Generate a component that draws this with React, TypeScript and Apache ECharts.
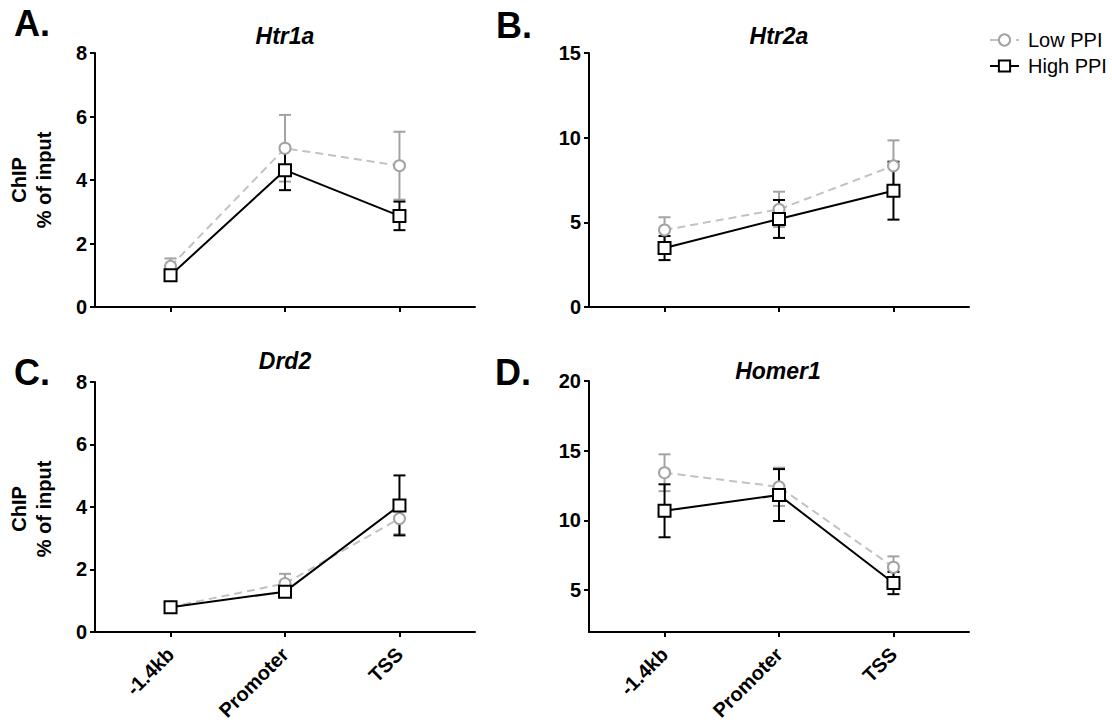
import React, { useEffect, useRef } from "react";
import * as echarts from "echarts";

const categories = ["-1.4kb", "Promoter", "TSS"];
const categoryPositions = [0, 1, 2];

const htr1aLow = [1.28, 5.0, 4.45];
const htr1aLowErr = [0.25, 1.05, 1.07];
const htr1aHigh = [1.0, 4.31, 2.87];
const htr1aHighErr = [0.12, 0.63, 0.45];

const htr2aLow = [4.55, 5.77, 8.34];
const htr2aLowErr = [0.75, 1.04, 1.5];
const htr2aHigh = [3.48, 5.2, 6.87];
const htr2aHighErr = [0.71, 1.12, 1.71];

const drd2Low = [0.8, 1.55, 3.63];
const drd2LowErr = [0.08, 0.31, 0.5];
const drd2High = [0.79, 1.29, 4.05];
const drd2HighErr = [0.07, 0.12, 0.96];

const homer1Low = [13.42, 12.41, 6.64];
const homer1LowErr = [1.32, 1.37, 0.78];
const homer1High = [10.69, 11.82, 5.51];
const homer1HighErr = [1.9, 1.86, 0.8];

const yTicksHtr1a = [0, 2, 4, 6, 8];
const yTicksHtr2a = [0, 5, 10, 15];
const yTicksDrd2 = [0, 2, 4, 6, 8];
const yTicksHomer1 = [5, 10, 15, 20];

const FONT = "'Liberation Sans', Arial, Helvetica, sans-serif";
const GRAY = "#a3a3a3";
const DASH_GRAY = "#c2c2c2";

type Panel = {
  gene: string;
  letter: string;
  low: number[];
  lowErr: number[];
  high: number[];
  highErr: number[];
  yMin: number;
  yMax: number;
  yTicks: number[];
  left: number;
  top: number;
  showLabels: boolean;
  titleX: number;
  titleY: number;
  letterX: number;
  letterY: number;
  yName: boolean;
};

const panels: Panel[] = [
  { gene: "Htr1a", letter: "A.", low: htr1aLow, lowErr: htr1aLowErr, high: htr1aHigh, highErr: htr1aHighErr, yMin: 0, yMax: 8, yTicks: yTicksHtr1a, left: 95, top: 53, showLabels: false, titleX: 285, titleY: 36, letterX: 14, letterY: 23, yName: true },
  { gene: "Htr2a", letter: "B.", low: htr2aLow, lowErr: htr2aLowErr, high: htr2aHigh, highErr: htr2aHighErr, yMin: 0, yMax: 15, yTicks: yTicksHtr2a, left: 589, top: 53, showLabels: false, titleX: 779, titleY: 36, letterX: 496, letterY: 25, yName: false },
  { gene: "Drd2", letter: "C.", low: drd2Low, lowErr: drd2LowErr, high: drd2High, highErr: drd2HighErr, yMin: 0, yMax: 8, yTicks: yTicksDrd2, left: 95, top: 382, showLabels: true, titleX: 285, titleY: 361, letterX: 14, letterY: 372, yName: true },
  { gene: "Homer1", letter: "D.", low: homer1Low, lowErr: homer1LowErr, high: homer1High, highErr: homer1HighErr, yMin: 2, yMax: 20, yTicks: yTicksHomer1, left: 589, top: 381, showLabels: true, titleX: 778, titleY: 371, letterX: 495, letterY: 372, yName: false },
];

const PLOT_W = 380;
const PLOT_H = 254;

function errorRenderer(color: string) {
  return (params: any, api: any) => {
    const x = api.value(0);
    const y = api.value(1);
    const e = api.value(2);
    const top = api.coord([x, y + e]);
    const bot = api.coord([x, y - e]);
    const half = 6;
    const style = { stroke: color, lineWidth: 2, fill: null };
    return {
      type: "group",
      children: [
        { type: "line", shape: { x1: top[0], y1: top[1], x2: bot[0], y2: bot[1] }, style },
        { type: "line", shape: { x1: top[0] - half, y1: top[1], x2: top[0] + half, y2: top[1] }, style },
        { type: "line", shape: { x1: bot[0] - half, y1: bot[1], x2: bot[0] + half, y2: bot[1] }, style },
      ],
    };
  };
}

export default function App() {
  const ref = useRef<HTMLDivElement>(null);

  useEffect(() => {
    if (!ref.current) return;
    const chart = echarts.init(ref.current, null, { renderer: "svg" });

    const grids: any[] = [];
    const xAxes: any[] = [];
    const yAxes: any[] = [];
    const series: any[] = [];
    const graphics: any[] = [];

    panels.forEach((p, i) => {
      grids.push({ left: p.left, top: p.top, width: PLOT_W, height: PLOT_H, containLabel: false });
      xAxes.push({
        type: "value",
        gridIndex: i,
        min: -0.66,
        max: 2.66,
        splitLine: { show: false },
        axisLine: { show: true, onZero: false, lineStyle: { color: "#000", width: 2 } },
        axisTick: { show: true, customValues: categoryPositions, length: 5, lineStyle: { color: "#000", width: 2 } },
        axisLabel: {
          show: p.showLabels,
          customValues: categoryPositions,
          formatter: (v: number) => categories[Math.round(v)],
          rotate: 45,
          margin: 19,
          fontSize: 20,
          fontWeight: "bold",
          fontFamily: FONT,
          color: "#000",
        },
      });
      yAxes.push({
        type: "value",
        gridIndex: i,
        min: p.yMin,
        max: p.yMax,
        splitLine: { show: false },
        axisLine: { show: true, onZero: false, lineStyle: { color: "#000", width: 2 } },
        axisTick: { show: true, customValues: p.yTicks, length: 5, lineStyle: { color: "#000", width: 2 } },
        axisLabel: {
          customValues: p.yTicks,
          margin: 8,
          fontSize: 20,
          fontWeight: "bold",
          fontFamily: FONT,
          color: "#000",
        },
      });

      series.push({
        type: "custom",
        name: "Low PPI err",
        xAxisIndex: i,
        yAxisIndex: i,
        renderItem: errorRenderer(GRAY),
        data: p.low.map((v, k) => [categoryPositions[k], v, p.lowErr[k]]),
        encode: { x: 0, y: 1 },
        clip: false,
        silent: true,
      });
      series.push({
        type: "line",
        name: "Low PPI",
        xAxisIndex: i,
        yAxisIndex: i,
        data: p.low.map((v, k) => [categoryPositions[k], v]),
        symbol: "circle",
        symbolSize: 11,
        showSymbol: true,
        lineStyle: { color: DASH_GRAY, width: 2, type: [8, 5] },
        itemStyle: { color: "#fff", borderColor: GRAY, borderWidth: 2 },
      });
      series.push({
        type: "custom",
        name: "High PPI err",
        xAxisIndex: i,
        yAxisIndex: i,
        renderItem: errorRenderer("#000"),
        data: p.high.map((v, k) => [categoryPositions[k], v, p.highErr[k]]),
        encode: { x: 0, y: 1 },
        clip: false,
        silent: true,
      });
      series.push({
        type: "line",
        name: "High PPI",
        xAxisIndex: i,
        yAxisIndex: i,
        data: p.high.map((v, k) => [categoryPositions[k], v]),
        symbol: "rect",
        symbolSize: 12,
        showSymbol: true,
        lineStyle: { color: "#000", width: 2, type: "solid" },
        itemStyle: { color: "#fff", borderColor: "#000", borderWidth: 2 },
      });

      graphics.push({
        type: "text",
        x: p.titleX,
        y: p.titleY,
        style: {
          text: p.gene,
          fontSize: 23,
          fontWeight: "bold",
          fontStyle: "italic",
          fontFamily: FONT,
          fill: "#000",
          align: "center",
          verticalAlign: "middle",
        },
      });
      graphics.push({
        type: "text",
        x: p.letterX,
        y: p.letterY,
        style: {
          text: p.letter,
          fontSize: 36,
          fontWeight: "bold",
          fontFamily: FONT,
          fill: "#000",
          align: "left",
          verticalAlign: "middle",
        },
      });
      if (p.yName) {
        const cy = p.top + PLOT_H / 2;
        graphics.push({
          type: "text",
          x: 19,
          y: cy,
          rotation: Math.PI / 2,
          style: { text: "ChIP", fontSize: 20, fontWeight: "bold", fontFamily: FONT, fill: "#000", align: "center", verticalAlign: "middle" },
        });
        graphics.push({
          type: "text",
          x: 44,
          y: cy,
          rotation: Math.PI / 2,
          style: { text: "% of input", fontSize: 20, fontWeight: "bold", fontFamily: FONT, fill: "#000", align: "center", verticalAlign: "middle" },
        });
      }
    });

    chart.setOption({
      animation: false,
      backgroundColor: "#fff",
      grid: grids,
      xAxis: xAxes,
      yAxis: yAxes,
      series,
      graphic: graphics,
      legend: {
        data: ["Low PPI", "High PPI"],
        orient: "vertical",
        left: 984,
        top: 25,
        itemWidth: 29,
        itemHeight: 14,
        itemGap: 6,
        selectedMode: false,
        textStyle: { fontSize: 20, fontFamily: FONT, color: "#000", padding: [0, 0, 0, 4] },
      },
    });

    return () => chart.dispose();
  }, []);

  return (
    <div
      ref={ref}
      style={{ position: "fixed", left: 0, top: 0, width: 1112, height: 723, background: "#fff" }}
    />
  );
}
